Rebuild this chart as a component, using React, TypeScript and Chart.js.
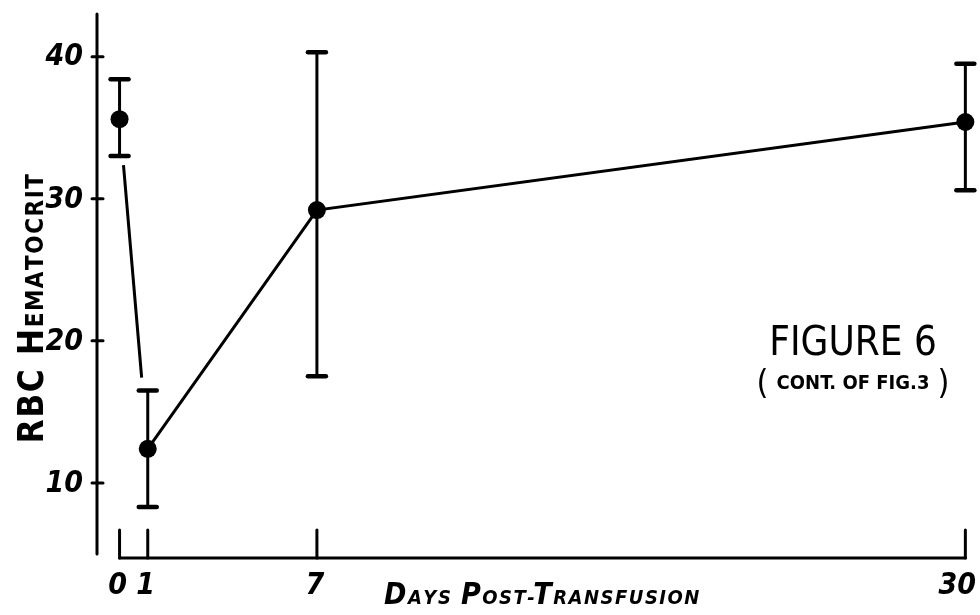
import React, { useEffect, useRef } from "react";
import { Chart, registerables } from "chart.js";

Chart.register(...registerables);

// Days after transfusion and mean RBC hematocrit with its range
const days = [0, 1, 7, 30];
const hematocrit = [35.6, 12.4, 29.2, 35.4];
const errLow = [33.0, 8.3, 17.5, 30.6];
const errHigh = [38.4, 16.5, 40.3, 39.5];

const yTicks = [10, 20, 30, 40];
const xTicks = [0, 1, 7, 30];

const yTitle = "RBC Hematocrit";
const xTitle = "Days Post-Transfusion";
const figTitle = "FIGURE 6";
const figNote = "CONT. OF FIG.3";

const INK = "#000";
const NARROW = '"Liberation Sans Narrow", "DejaVu Sans Condensed", "Liberation Sans", sans-serif';

function stroke(ctx: CanvasRenderingContext2D, x1: number, y1: number, x2: number, y2: number) {
  ctx.beginPath();
  ctx.moveTo(x1, y1);
  ctx.lineTo(x2, y2);
  ctx.stroke();
}

// Hand-lettered style: capitals in the source text are drawn large,
// lower-case letters are drawn as smaller capitals.
function smallCapsRuns(text: string) {
  const runs: { s: string; big: boolean }[] = [];
  for (const ch of text) {
    const big = ch === " " || (ch !== ch.toLowerCase());
    const last = runs[runs.length - 1];
    if (last && last.big === big) last.s += ch.toUpperCase();
    else runs.push({ s: ch.toUpperCase(), big });
  }
  return runs;
}

function drawSmallCaps(
  ctx: CanvasRenderingContext2D,
  text: string,
  cx: number,
  baseline: number,
  style: string,
  bigSize: number,
  smallSize: number,
  spacing: number
) {
  const runs = smallCapsRuns(text);
  const fontFor = (big: boolean) => `${style} ${big ? bigSize : smallSize}px ${NARROW}`;
  let total = 0;
  const widths = runs.map((r) => {
    ctx.font = fontFor(r.big);
    const w = ctx.measureText(r.s).width + spacing * r.s.length;
    total += w;
    return w;
  });
  let x = cx - total / 2;
  ctx.textAlign = "left";
  ctx.textBaseline = "alphabetic";
  runs.forEach((r, i) => {
    ctx.font = fontFor(r.big);
    let px = x;
    for (const ch of r.s) {
      ctx.fillText(ch, px, baseline);
      px += ctx.measureText(ch).width + spacing;
    }
    x += widths[i];
  });
}

// Leaves the steep part of a connecting line out where it would run over the whiskers
function steepGap(ctx: any) {
  const { p0, p1, p0DataIndex, p1DataIndex, chart } = ctx;
  const dx = p1.x - p0.x;
  const dy = p1.y - p0.y;
  if (Math.abs(dy) < 4 * Math.abs(dx)) return null;
  const ys = chart.scales.y;
  const down = dy > 0;
  const e0 = ys.getPixelForValue(down ? errLow[p0DataIndex] : errHigh[p0DataIndex]);
  const e1 = ys.getPixelForValue(down ? errHigh[p1DataIndex] : errLow[p1DataIndex]);
  const L = Math.hypot(dx, dy);
  const k = L / Math.abs(dy);
  const g0 = (Math.abs(e0 - p0.y) + 9) * k;
  const g1 = (Math.abs(p1.y - e1) + 13) * k;
  const dash = Math.max(0, L - g0 - g1);
  return { dash, g0, g1 };
}

const handDrawn = {
  id: "handDrawn",
  beforeDatasetsDraw(chart: any) {
    const { ctx, chartArea, scales } = chart;
    const xs = scales.x;
    const ys = scales.y;
    const left = chartArea.left;
    ctx.save();
    ctx.strokeStyle = INK;
    ctx.fillStyle = INK;
    ctx.lineCap = "round";

    // vertical axis with cross ticks
    ctx.lineWidth = 3;
    stroke(ctx, left, chartArea.top, left, chartArea.bottom);
    ctx.font = `italic bold 30px ${NARROW}`;
    ctx.textAlign = "right";
    ctx.textBaseline = "middle";
    yTicks.forEach((v) => {
      const y = ys.getPixelForValue(v);
      stroke(ctx, left - 5, y, left + 6, y);
      ctx.fillText(String(v), left - 14, y + 1);
    });

    // horizontal axis with upright ticks at each sampling day
    const base = chartArea.bottom + 4;
    const xa = xs.getPixelForValue(xTicks[0]);
    const xb = xs.getPixelForValue(xTicks[xTicks.length - 1]);
    stroke(ctx, xa, base, xb, base);
    ctx.textAlign = "center";
    ctx.textBaseline = "top";
    ctx.font = `italic bold 30px ${NARROW}`;
    xTicks.forEach((d) => {
      const x = xs.getPixelForValue(d);
      stroke(ctx, x, base, x, base - 28);
      const w = ctx.measureText(String(d)).width;
      const lx = Math.min(x - 2, chart.width - w / 2 - 4);
      ctx.fillText(String(d), lx, base + 13);
    });

    // whiskers
    days.forEach((d, i) => {
      const x = xs.getPixelForValue(d);
      const yl = ys.getPixelForValue(errLow[i]);
      const yh = ys.getPixelForValue(errHigh[i]);
      ctx.lineWidth = 3;
      stroke(ctx, x, yl, x, yh);
      ctx.lineWidth = 4.5;
      stroke(ctx, x - 9, yl, x + 9, yl);
      stroke(ctx, x - 9, yh, x + 9, yh);
    });
    ctx.restore();
  },
  afterDraw(chart: any) {
    const { ctx, chartArea, scales } = chart;
    ctx.save();
    ctx.fillStyle = INK;

    // axis titles
    const xs = scales.x;
    const xc = (xs.getPixelForValue(xTicks[0]) + xs.getPixelForValue(xTicks[xTicks.length - 1])) / 2;
    drawSmallCaps(ctx, xTitle, xc, chart.height - 11, "italic bold", 30, 20, 1.5);

    ctx.save();
    ctx.translate(43, (chartArea.top + chartArea.bottom) / 2 + 25);
    ctx.rotate(-Math.PI / 2);
    drawSmallCaps(ctx, yTitle, 0, 0, "bold", 35, 24, 1.5);
    ctx.restore();

    // figure caption
    const fx = chartArea.right - 118;
    ctx.textAlign = "center";
    ctx.textBaseline = "alphabetic";
    ctx.font = `40px ${NARROW}`;
    ctx.fillText(figTitle, fx, 355);
    ctx.font = `bold 20px ${NARROW}`;
    const w = ctx.measureText(figNote).width;
    ctx.fillText(figNote, fx, 389);
    ctx.font = `34px ${NARROW}`;
    ctx.fillText("(", fx - w / 2 - 14, 394);
    ctx.fillText(")", fx + w / 2 + 14, 394);
    ctx.restore();
  },
};

export default function App() {
  const canvasRef = useRef<HTMLCanvasElement | null>(null);

  useEffect(() => {
    const canvas = canvasRef.current;
    if (!canvas) return;
    const chart = new Chart(canvas, {
      type: "line",
      data: {
        labels: days,
        datasets: [
          {
            data: days.map((d, i) => ({ x: d, y: hematocrit[i] })),
            borderColor: INK,
            borderWidth: 3,
            backgroundColor: INK,
            pointRadius: 9,
            pointBorderWidth: 0,
            pointBackgroundColor: INK,
            tension: 0,
            clip: false as any,
            segment: {
              borderDash: (ctx: any) => {
                const g = steepGap(ctx);
                return g ? [g.dash, g.g0 + g.g1] : undefined;
              },
              borderDashOffset: (ctx: any) => {
                const g = steepGap(ctx);
                return g ? g.dash + g.g1 : undefined;
              },
            },
          },
        ],
      },
      options: {
        responsive: false,
        animation: false,
        events: [],
        layout: { padding: { top: 14, bottom: 61, left: 97, right: 5 } },
        scales: {
          x: { type: "linear", min: -0.8, max: 30.2, display: false },
          y: { type: "linear", min: 5, max: 43, display: false },
        },
        plugins: {
          legend: { display: false },
          tooltip: { enabled: false },
        },
      },
      plugins: [handDrawn],
    });
    return () => chart.destroy();
  }, []);

  return (
    <div style={{ position: "fixed", left: 0, top: 0, width: 980, height: 615, background: "#fff" }}>
      <canvas ref={canvasRef} width={980} height={615} />
    </div>
  );
}
